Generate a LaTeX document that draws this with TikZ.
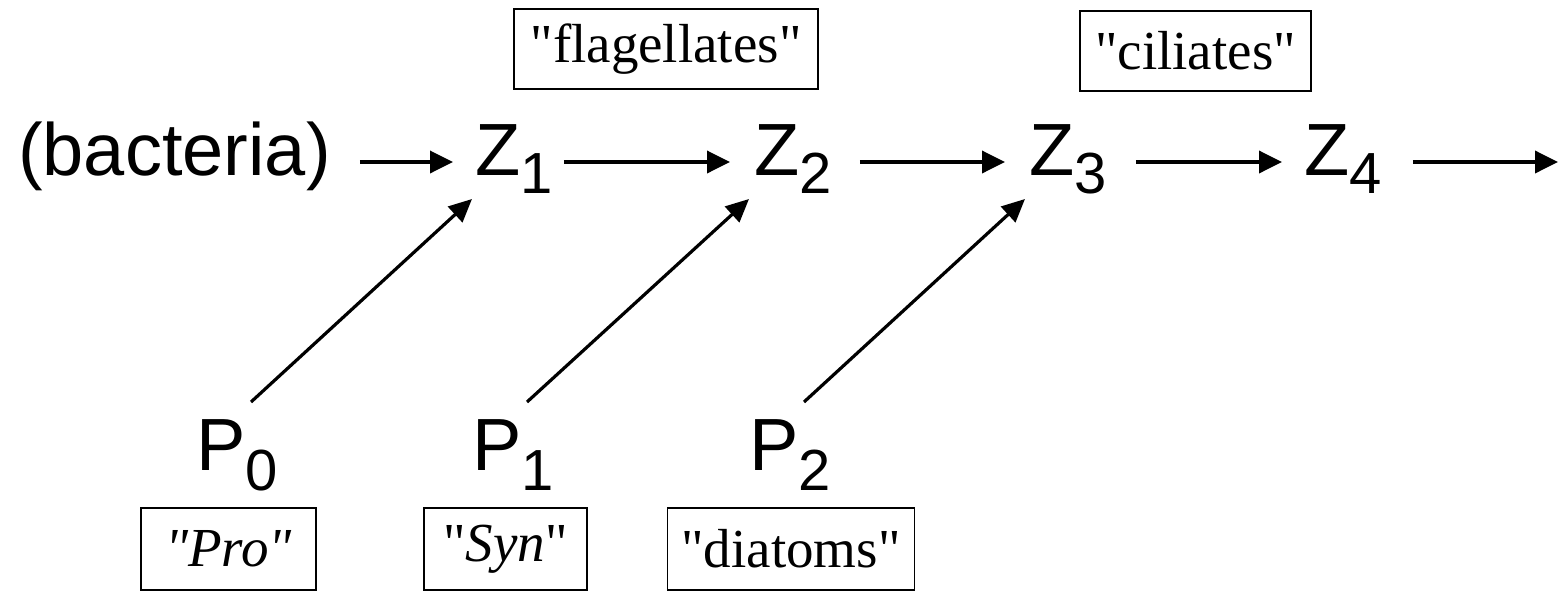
\documentclass[tikz,border=0pt]{standalone}
\usepackage{fontspec}
\setmainfont{Liberation Serif}
\newfontfamily\arialf{Liberation Sans}
\usetikzlibrary{arrows.meta,calc}
\newcommand{\subn}[1]{\raisebox{-18pt}{\fontsize{58}{60}\selectfont #1}}
\newcommand{\subp}[1]{\raisebox{-20pt}{\fontsize{58}{60}\selectfont #1}}
\newcommand{\q}{\textquotedbl}
\tikzset{
  big/.style={font=\arialf\fontsize{74}{80}\selectfont, inner sep=0pt, anchor=base west},
  lbox/.style={draw, line width=1.4pt, font=\fontsize{55}{60}\selectfont, inner sep=0pt, align=center},
  arr/.style={line width=3.6pt, -{Triangle[length=23pt,width=22pt]}},
  darr/.style={line width=3.2pt, -{Triangle[length=23pt,width=21pt]}}
}
\begin{document}
\begin{tikzpicture}[x=1pt,y=-1pt]
\useasboundingbox (0,0) rectangle (1564,592);
% main row
\node[big] (bact) at (18,175) {(bacteria)};
\node[big] (z1) at (475,175) {Z\subn{1}};
\node[big] (z2) at (754,175) {Z\subn{2}};
\node[big] (z3) at (1029,175) {Z\subn{3}};
\node[big] (z4) at (1304,175) {Z\subn{4}};
\coordinate (zend) at (1558,162);
% producers
\node[big] (p0) at (196,470) {P\subp{0}};
\node[big] (p1) at (472,470) {P\subp{1}};
\node[big] (p2) at (749,470) {P\subp{2}};
% label boxes
\node[lbox, minimum width=304pt, minimum height=80pt] (flag) at (666,49) {\q flagellates\q};
\node[lbox, minimum width=231pt, minimum height=80pt] (cil) at (1195.5,51) {\q ciliates\q};
\node[lbox, minimum width=175pt, minimum height=82pt] (pro) at (228.5,549) {\textit{\q Pro\q}};
\node[lbox, minimum width=163pt, minimum height=82pt] (syn) at (505.5,549) {\q\textit{Syn}\q};
\node[lbox, minimum width=247pt, minimum height=82pt] (dia) at (791,549) {\q diatoms\q};
% horizontal arrows
\draw[arr] ($(bact.base east)+(29,-13)$) -- ($(z1.base west)+(-22,-13)$);
\draw[arr] ($(z1.base east)+(11,-13)$) -- ($(z2.base west)+(-24,-13)$);
\draw[arr] ($(z2.base east)+(28,-13)$) -- ($(z3.base west)+(-24,-13)$);
\draw[arr] ($(z3.base east)+(29,-13)$) -- ($(z4.base west)+(-22,-13)$);
\draw[arr] ($(z4.base east)+(31,-13)$) -- (zend);
% diagonal arrows
\draw[darr] ($(p0.base west)+(55,-68)$) -- ($(z1.base west)+(-3,24)$);
\draw[darr] ($(p1.base west)+(55,-68)$) -- ($(z2.base west)+(-5,24)$);
\draw[darr] ($(p2.base west)+(55,-68)$) -- ($(z3.base west)+(-4,24)$);
\end{tikzpicture}
\end{document}
